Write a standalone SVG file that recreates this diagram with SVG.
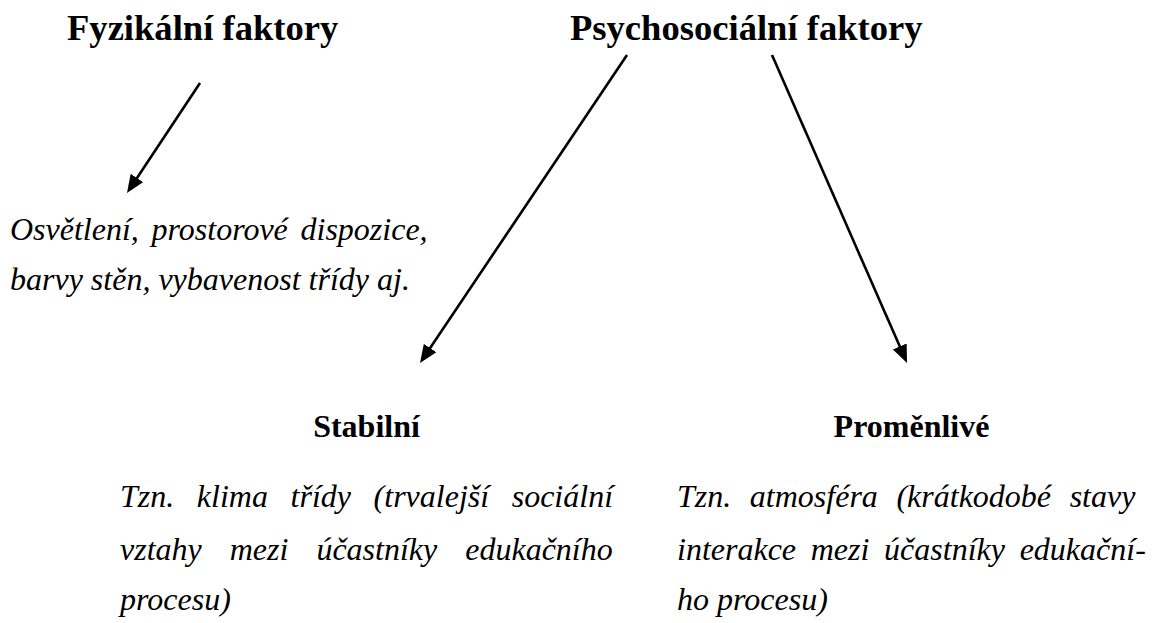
<svg xmlns="http://www.w3.org/2000/svg" width="1155" height="623" viewBox="0 0 1155 623">
<style>
.title{font-family:"Liberation Serif","Times New Roman",serif;font-weight:bold;font-size:36.6px;fill:#000}
.sub{font-family:"Liberation Serif","Times New Roman",serif;font-weight:bold;font-size:32px;fill:#000}
.it{font-family:"Liberation Serif","Times New Roman",serif;font-style:italic;font-size:32px;fill:#000}
.conn{stroke:#000;stroke-width:2.6;fill:none;marker-end:url(#ah)}
</style>
<defs>
<marker id="ah" markerUnits="userSpaceOnUse" markerWidth="20" markerHeight="16" refX="8" refY="7.5" orient="auto">
<path d="M0,0 L18,7.5 L0,15 z" fill="#000"/>
</marker>
</defs>
<rect width="1155" height="623" fill="#fff"/>
<g id="fyzikalni">
<text class="title" x="67" y="40">Fyzikální faktory</text>
</g>
<g id="psychosocialni">
<text class="title" x="570" y="40">Psychosociální faktory</text>
</g>
<g id="fyz-popis">
<text class="it" x="10" y="240" word-spacing="4.7">Osvětlení, prostorové dispozice,</text>
<text class="it" x="10" y="290">barvy stěn, vybavenost třídy aj.</text>
</g>
<g id="stabilni">
<text class="sub" x="366.5" y="437" text-anchor="middle">Stabilní</text>
<text class="it" x="120" y="507" word-spacing="14.6">Tzn. klima třídy (trvalejší sociální</text>
<text class="it" x="120" y="560" word-spacing="20">vztahy mezi účastníky edukačního</text>
<text class="it" x="120" y="610">procesu)</text>
</g>
<g id="promenlive">
<text class="sub" x="911.5" y="437" text-anchor="middle">Proměnlivé</text>
<text class="it" x="677" y="507" word-spacing="10.6">Tzn. atmosféra (krátkodobé stavy</text>
<text class="it" x="677" y="560" word-spacing="6.7">interakce mezi účastníky edukační-</text>
<text class="it" x="677" y="610">ho procesu)</text>
</g>
<g id="connectors">
<line class="conn" x1="200" y1="83" x2="132.5" y2="184.7"/>
<line class="conn" x1="627" y1="55" x2="425.6" y2="354.7"/>
<line class="conn" x1="772" y1="55" x2="903" y2="353.8"/>
</g>
</svg>
